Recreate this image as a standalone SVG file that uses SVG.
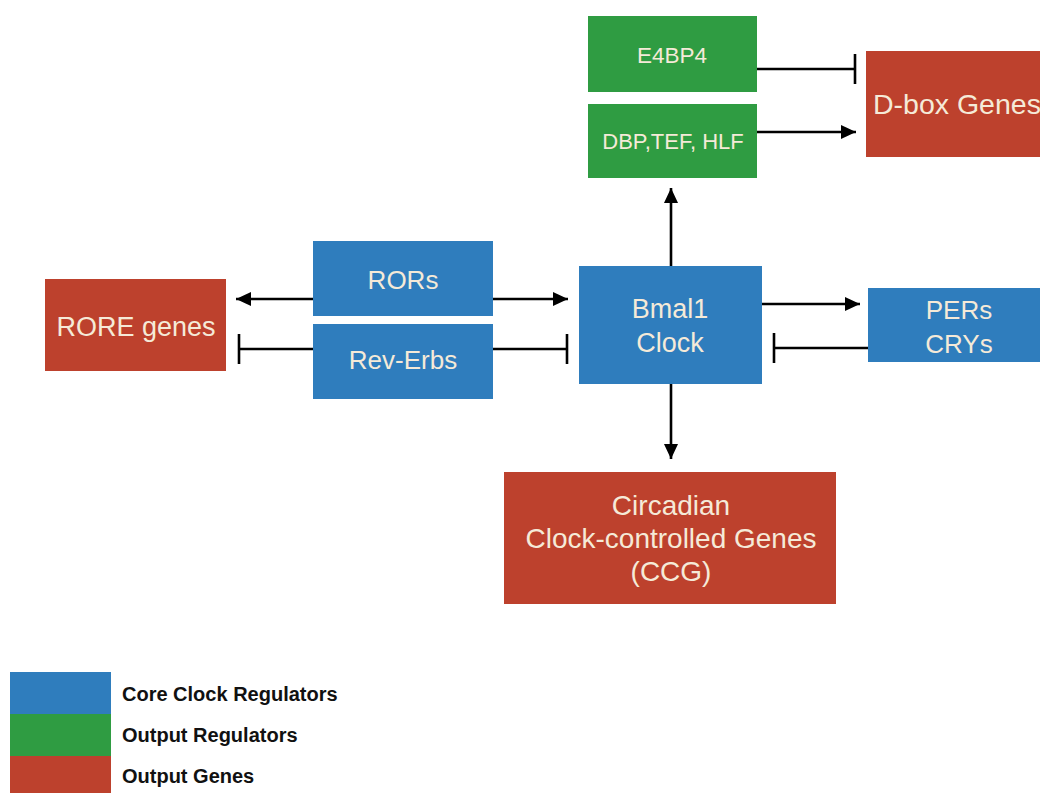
<svg xmlns="http://www.w3.org/2000/svg" width="1040" height="793" viewBox="0 0 1040 793">
<style>
.blue{fill:#2f7dbd}
.green{fill:#2f9c42}
.red{fill:#bd412d}
.lbl{font-family:"Liberation Sans",Arial,sans-serif;fill:#f5ead8;text-anchor:middle}
.leg{font-family:"Liberation Sans",Arial,sans-serif;font-weight:bold;font-size:20px;fill:#111}
.edge{stroke:#000;stroke-width:2.6;fill:none}
</style>
<defs>
<marker id="arrow" markerUnits="userSpaceOnUse" markerWidth="17" markerHeight="16" refX="15" refY="8" orient="auto">
<path d="M0,1 L15,8 L0,15 Z" fill="#000"/>
</marker>
<marker id="bar" markerUnits="userSpaceOnUse" markerWidth="4" markerHeight="32" refX="2" refY="16" orient="auto">
<path d="M2,1 V31" stroke="#000" stroke-width="2.6"/>
</marker>
</defs>
<rect width="1040" height="793" fill="#fff"/>

<g id="connectors">
<line class="edge" x1="757" y1="69" x2="855" y2="69" marker-end="url(#bar)"/>
<line class="edge" x1="757" y1="132" x2="856" y2="132" marker-end="url(#arrow)"/>
<line class="edge" x1="671" y1="266" x2="671" y2="188" marker-end="url(#arrow)"/>
<line class="edge" x1="313" y1="299" x2="236" y2="299" marker-end="url(#arrow)"/>
<line class="edge" x1="493" y1="299" x2="568" y2="299" marker-end="url(#arrow)"/>
<line class="edge" x1="313" y1="349" x2="239" y2="349" marker-end="url(#bar)"/>
<line class="edge" x1="493" y1="349" x2="567" y2="349" marker-end="url(#bar)"/>
<line class="edge" x1="762" y1="304" x2="860" y2="304" marker-end="url(#arrow)"/>
<line class="edge" x1="868" y1="348" x2="774" y2="348" marker-end="url(#bar)"/>
<line class="edge" x1="671" y1="384" x2="671" y2="459" marker-end="url(#arrow)"/>
</g>

<g id="e4bp4">
<rect class="green" x="588" y="16" width="169" height="76"/>
<text class="lbl" x="672" y="63" font-size="22.5">E4BP4</text>
</g>
<g id="dbp">
<rect class="green" x="588" y="104" width="169" height="74"/>
<text class="lbl" x="673" y="149" font-size="22">DBP,TEF, HLF</text>
</g>
<g id="dbox">
<rect class="red" x="866" y="51" width="180" height="106"/>
<text class="lbl" x="873" y="114" font-size="28.5" style="text-anchor:start">D-box Genes</text>
</g>
<g id="rors">
<rect class="blue" x="313" y="241" width="180" height="75"/>
<text class="lbl" x="403" y="289" font-size="26">RORs</text>
</g>
<g id="reverbs">
<rect class="blue" x="313" y="324" width="180" height="75"/>
<text class="lbl" x="403" y="369" font-size="26">Rev-Erbs</text>
</g>
<g id="rore">
<rect class="red" x="45" y="279" width="181" height="92"/>
<text class="lbl" x="136" y="336" font-size="27">RORE genes</text>
</g>
<g id="bmal1">
<rect class="blue" x="579" y="266" width="183" height="118"/>
<text class="lbl" x="670" y="318" font-size="27">Bmal1</text>
<text class="lbl" x="670" y="352" font-size="27">Clock</text>
</g>
<g id="pers">
<rect class="blue" x="868" y="288" width="180" height="74"/>
<text class="lbl" x="959" y="319" font-size="26">PERs</text>
<text class="lbl" x="959" y="353" font-size="26">CRYs</text>
</g>
<g id="ccg">
<rect class="red" x="504" y="472" width="332" height="132"/>
<text class="lbl" x="671" y="515" font-size="28">Circadian</text>
<text class="lbl" x="671" y="548" font-size="28">Clock-controlled Genes</text>
<text class="lbl" x="671" y="581" font-size="28">(CCG)</text>
</g>

<g id="legend">
<rect class="blue" x="10" y="672" width="101" height="42"/>
<rect class="green" x="10" y="714" width="101" height="42"/>
<rect class="red" x="10" y="756" width="101" height="37"/>
<text class="leg" x="122" y="701">Core Clock Regulators</text>
<text class="leg" x="122" y="742">Output Regulators</text>
<text class="leg" x="122" y="783">Output Genes</text>
</g>
</svg>
